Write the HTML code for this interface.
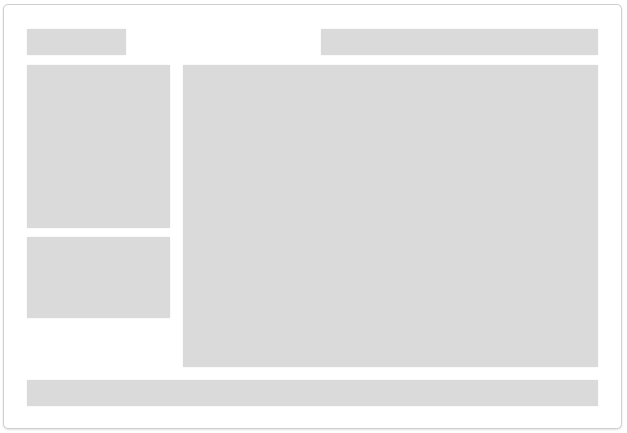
<!DOCTYPE html>
<html><head><style>
html,body{margin:0;padding:0;background:#fff;width:627px;height:433px;overflow:hidden}
.b{position:absolute;background:#dadada;box-shadow:0 0 1px #e6e6e6}
#frame{position:absolute;left:3px;top:4px;width:617px;height:423px;border:1px solid #cfcfcf;border-radius:5px;box-shadow:0 1px 2px rgba(0,0,0,0.12)}
</style></head><body>
<div id="frame"></div>
<div class="b" style="left:27px;top:29px;width:99px;height:26px"></div>
<div class="b" style="left:321px;top:29px;width:277px;height:26px"></div>
<div class="b" style="left:27px;top:65px;width:143px;height:163px"></div>
<div class="b" style="left:27px;top:237px;width:143px;height:81px"></div>
<div class="b" style="left:183px;top:65px;width:415px;height:302px"></div>
<div class="b" style="left:27px;top:380px;width:571px;height:26px"></div>
</body></html>
